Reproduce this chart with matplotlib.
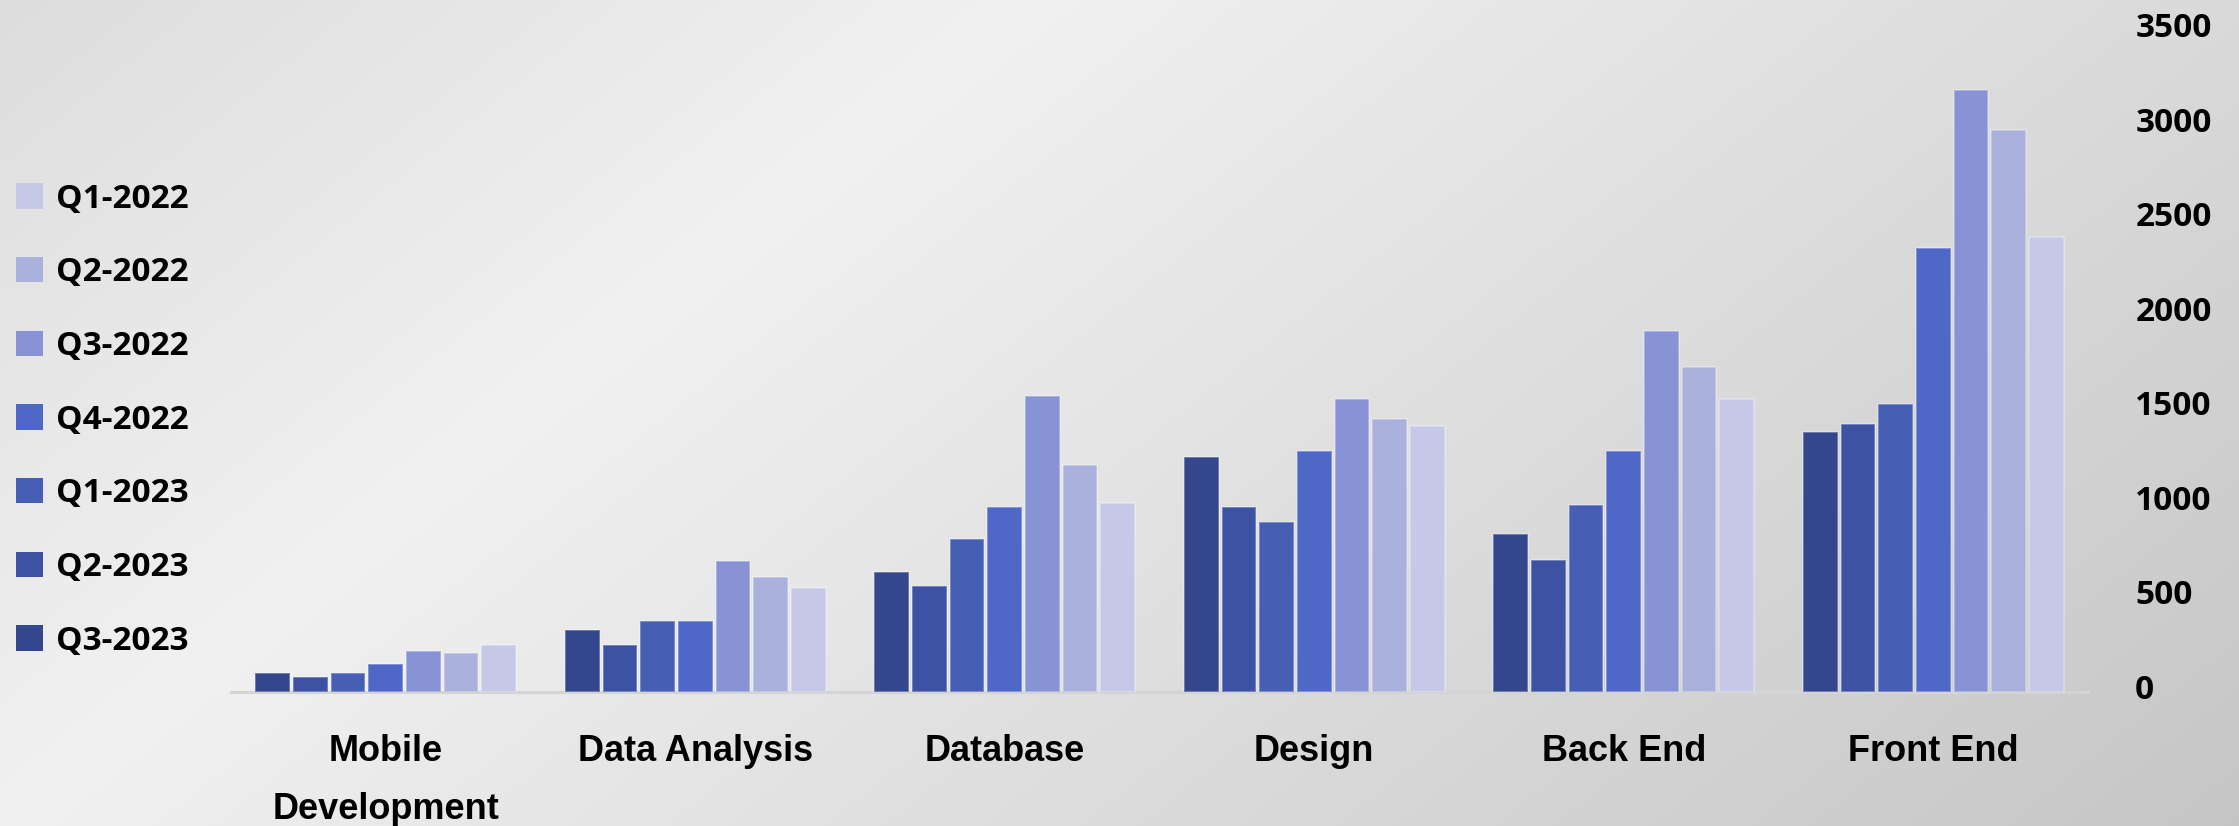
import matplotlib
matplotlib.use("Agg")
import matplotlib.pyplot as plt
import matplotlib.transforms as mtransforms
import numpy as np
from matplotlib.patches import Patch

# categories along x, left to right
categories = ["Mobile\nDevelopment", "Data Analysis", "Database",
              "Design", "Back End", "Front End"]

# one list per series, in the order the bars appear within a group
q3_2023 = [100, 330, 635, 1245, 835, 1375]
q2_2023 = [80, 250, 560, 980, 700, 1420]
q1_2023 = [100, 375, 810, 900, 990, 1525]
q4_2022 = [150, 375, 980, 1275, 1275, 2350]
q3_2022 = [215, 695, 1565, 1550, 1910, 3185]
q2_2022 = [205, 610, 1200, 1445, 1720, 2975]
q1_2022 = [250, 550, 1000, 1410, 1550, 2405]

series_names = ["Q3-2023", "Q2-2023", "Q1-2023", "Q4-2022",
                "Q3-2022", "Q2-2022", "Q1-2022"]
series_vals = [q3_2023, q2_2023, q1_2023, q4_2022, q3_2022, q2_2022, q1_2022]
series_cols = ["#34478c", "#3d52a3", "#465eb4", "#4f68c8",
               "#8793d4", "#aab1dd", "#c5c8e7"]

y_ticks = [0, 500, 1000, 1500, 2000, 2500, 3000, 3500]

W, H = 2239, 826
fig = plt.figure(figsize=(W / 100, H / 100), dpi=100)

# --- background: soft diagonal grey gradient ---
bg = fig.add_axes([0, 0, 1, 1], zorder=-10)
yy, xx = np.mgrid[0:H, 0:W]
d = (xx * 826 + (yy - 826) * 1030) / 1320.0
shade = np.clip(241 - 0.031 * np.abs(d), 190, 245) / 255.0
bg.imshow(np.dstack([shade, shade, shade]), aspect="auto",
          extent=[0, 1, 0, 1], origin="upper")
bg.set_axis_off()

# --- bars ---
ax = fig.add_axes([231 / W, 134 / H, (2088 - 231) / W, (795.5 - 134) / H])
ax.patch.set_alpha(0)
x = np.arange(len(categories))
slot = 0.1217
width = 0.112
for i, (vals, col) in enumerate(zip(series_vals, series_cols)):
    ax.bar(x + (i - 3) * slot, vals, width=width, color=col,
           edgecolor=(1, 1, 1, 0.35), linewidth=1.2, zorder=3)

ax.set_xlim(-0.5, len(categories) - 0.5)
ax.set_ylim(0, 3500)
ax.set_xticks(x)
ax.set_xticklabels(categories, fontsize=26, fontweight="bold",
                   family="Liberation Sans", linespacing=1.85)
ax.tick_params(axis="x", length=0, pad=30)

ax.yaxis.tick_right()
ax.set_yticks(y_ticks)
ax.set_yticklabels([str(v) for v in y_ticks], fontsize=24,
                   fontweight="bold", family="Open Sans")
ax.tick_params(axis="y", length=0, pad=34)
nudge = mtransforms.ScaledTranslation(0, 4 / 72, fig.dpi_scale_trans)
for lab in ax.get_yticklabels():
    lab.set_horizontalalignment("left")
    lab.set_transform(lab.get_transform() + nudge)

for s in ["top", "left", "right"]:
    ax.spines[s].set_visible(False)
ax.spines["bottom"].set_color("#d4d4d4")
ax.spines["bottom"].set_linewidth(2.2)

# --- legend (lightest on top) ---
handles = [Patch(facecolor=c, edgecolor="none", label=n)
           for n, c in zip(series_names, series_cols)][::-1]
fig.legend(handles=handles, loc="center left",
           bbox_to_anchor=(16 / W, 0.4915), frameon=False,
           prop={"family": "Open Sans", "weight": "bold", "size": 24},
           handlelength=0.8, handleheight=0.8, handletextpad=0.4,
           labelspacing=1.22, borderpad=0, borderaxespad=0)

fig.savefig("out.png", dpi=100)
